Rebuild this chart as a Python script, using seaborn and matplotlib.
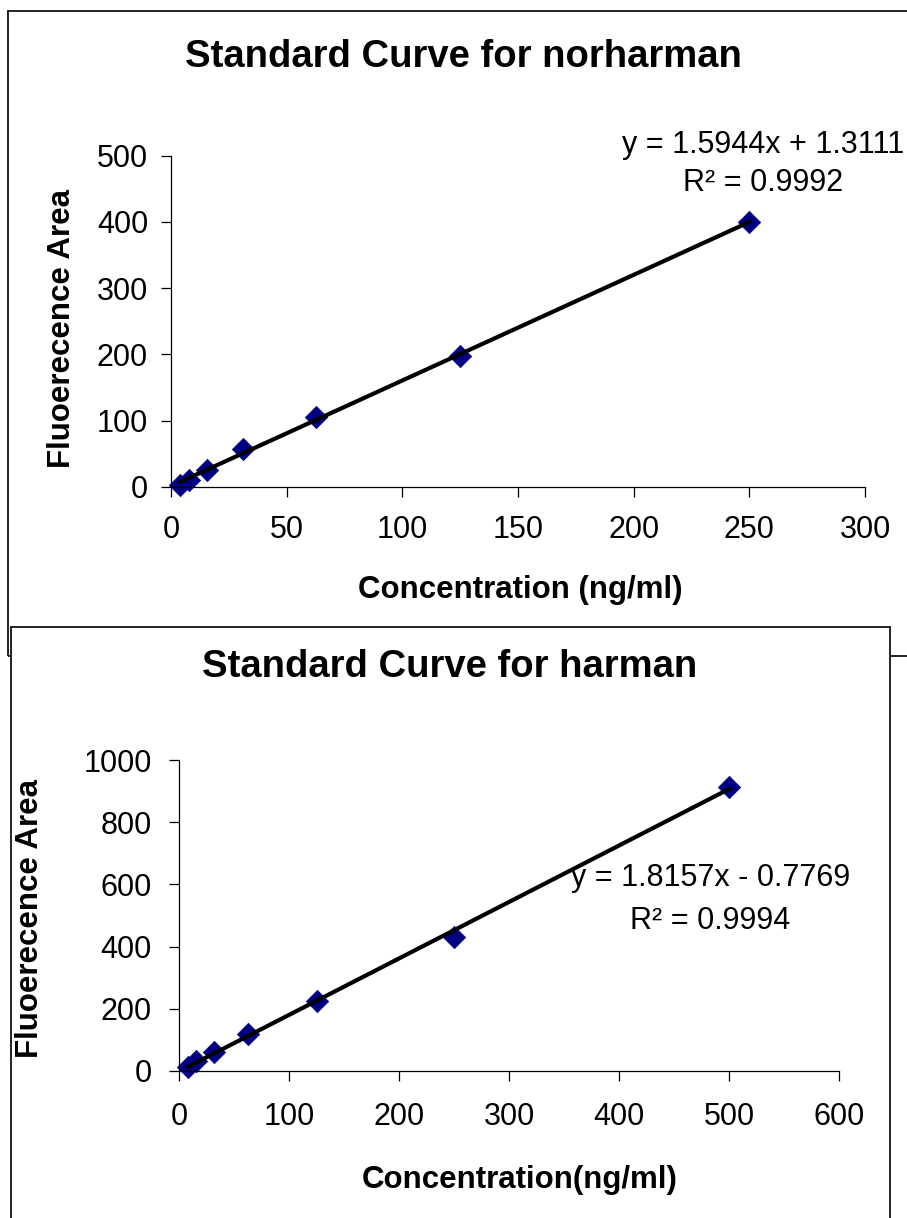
import matplotlib
matplotlib.use("Agg")
import matplotlib.pyplot as plt
from matplotlib.patches import Rectangle
import numpy as np
import pandas as pd
import seaborn as sns

# ---- calibration data -------------------------------------------------
norharman_conc = [3.9, 7.8, 15.6, 31.25, 62.5, 125, 250]
norharman_area = [3, 10, 25, 58, 105, 197, 400]
norharman_fit = (1.5944, 1.3111)
norharman_r2 = 0.9992

harman_conc = [7.8, 15.6, 31.25, 62.5, 125, 250, 500]
harman_area = [13, 31, 61, 120, 224, 432, 913]
harman_fit = (1.8157, -0.7769)
harman_r2 = 0.9994

norharman_xticks = [0, 50, 100, 150, 200, 250, 300]
norharman_yticks = [0, 100, 200, 300, 400, 500]
harman_xticks = [0, 100, 200, 300, 400, 500, 600]
harman_yticks = [0, 200, 400, 600, 800, 1000]

sns.set_theme(style="white")
plt.rcParams["font.family"] = ["Liberation Sans", "DejaVu Sans"]
plt.rcParams["text.color"] = "black"

W, H = 907, 1218
fig = plt.figure(figsize=(W / 100, H / 100), dpi=100)
fig.patch.set_facecolor("white")


def fx(px):
    return px / W


def fy(py):
    return 1 - py / H


def make_axes(left, right, top, bottom, z):
    ax = fig.add_axes([fx(left), fy(bottom), fx(right - left), (bottom - top) / H])
    ax.set_zorder(z)
    ax.patch.set_alpha(0)
    return ax


def draw_curve(ax, conc, area, fit, xticks, yticks, xpad, ypad):
    df = pd.DataFrame({"conc": conc, "area": area})
    slope, intercept = fit
    xs = np.array([min(conc), max(conc)])
    line = pd.DataFrame({"conc": xs, "area": slope * xs + intercept})
    sns.scatterplot(data=df, x="conc", y="area", ax=ax, marker="D", s=130,
                    color="#000080", edgecolor="#000080", linewidth=0.5, zorder=2,
                    clip_on=False)
    sns.lineplot(data=line, x="conc", y="area", ax=ax, color="black",
                 linewidth=3.0, zorder=3, clip_on=False)
    ax.set_xlim(xticks[0], xticks[-1])
    ax.set_ylim(yticks[0], yticks[-1])
    ax.set_xticks(xticks)
    ax.set_yticks(yticks)
    ax.set_xlabel("")
    ax.set_ylabel("")
    for side in ("top", "right"):
        ax.spines[side].set_visible(False)
    for side in ("left", "bottom"):
        ax.spines[side].set_color("black")
        ax.spines[side].set_linewidth(0.9)
    ax.tick_params(axis="both", which="major", direction="out", length=7,
                   width=0.9, color="black", labelsize=22, labelcolor="black",
                   bottom=True, left=True, top=False, right=False)
    ax.tick_params(axis="x", pad=xpad)
    ax.tick_params(axis="y", pad=ypad)
    ax.grid(False)


# ---- chart frames -----------------------------------------------------
fig.patches.append(Rectangle((fx(8), fy(656)), fx(1000), (656 - 11) / H,
                             transform=fig.transFigure, facecolor="none",
                             edgecolor="#222222", linewidth=1.4, zorder=1))
fig.patches.append(Rectangle((fx(11), fy(1300)), fx(890 - 11), (1300 - 627) / H,
                             transform=fig.transFigure, facecolor="white",
                             edgecolor="#222222", linewidth=1.4, zorder=2))

# ---- norharman --------------------------------------------------------
ax1 = make_axes(171, 865, 155.7, 487, 0)
draw_curve(ax1, norharman_conc, norharman_area, norharman_fit,
           norharman_xticks, norharman_yticks, xpad=13, ypad=9.5)
ax1.text(0.853, 1.032, f"y = {norharman_fit[0]:.4f}x + {norharman_fit[1]:.4f}",
         transform=ax1.transAxes, ha="center", va="center", fontsize=22,
         clip_on=False)
ax1.text(0.853, 0.918, f"R² = {norharman_r2:.4f}", transform=ax1.transAxes,
         ha="center", va="center", fontsize=22, clip_on=False)
fig.text(fx(463.6), fy(57), "Standard Curve for norharman", ha="center",
         va="center", fontsize=27.5, fontweight="bold")
fig.text(fx(520), fy(590), "Concentration (ng/ml)", ha="center", va="center",
         fontsize=22.5, fontweight="bold")
fig.text(fx(62), fy(328), "Fluoerecence Area", ha="center", va="center",
         rotation=90, fontsize=22.5, fontweight="bold")

# ---- harman -----------------------------------------------------------
ax2 = make_axes(179.3, 839.3, 760, 1071, 3)
draw_curve(ax2, harman_conc, harman_area, harman_fit,
           harman_xticks, harman_yticks, xpad=15, ypad=13)
ax2.text(0.805, 0.620, f"y = {harman_fit[0]:.4f}x - {abs(harman_fit[1]):.4f}",
         transform=ax2.transAxes, ha="center", va="center", fontsize=22,
         clip_on=False)
ax2.text(0.805, 0.482, f"R² = {harman_r2:.4f}", transform=ax2.transAxes,
         ha="center", va="center", fontsize=22, clip_on=False)
fig.text(fx(449.5), fy(667), "Standard Curve for harman", ha="center",
         va="center", fontsize=27.5, fontweight="bold", zorder=4)
fig.text(fx(520), fy(1180), "Concentration(ng/ml)", ha="center",
         va="center", fontsize=22.5, fontweight="bold", zorder=4)
fig.text(fx(30), fy(918), "Fluoerecence Area", ha="center", va="center",
         rotation=90, fontsize=22.5, fontweight="bold", zorder=4)

fig.savefig("out.png", dpi=100, facecolor="white")
